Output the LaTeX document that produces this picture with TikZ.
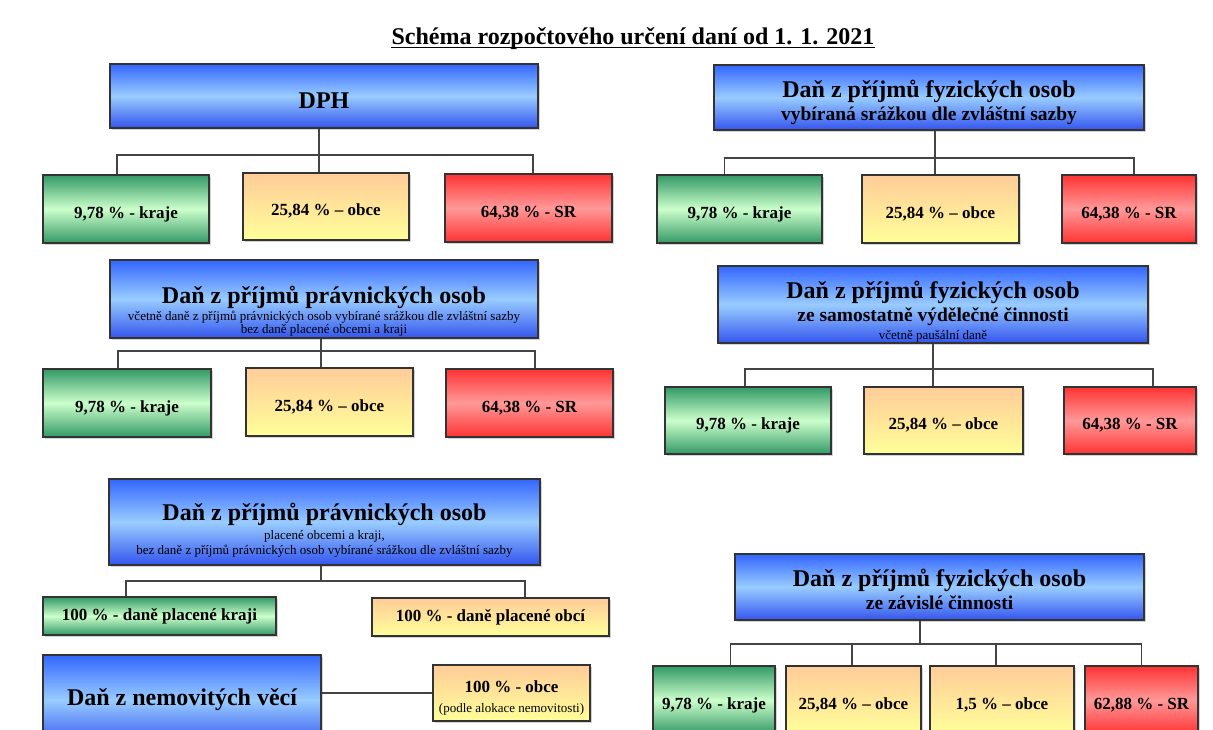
\documentclass[tikz,border=0pt]{standalone}
\usepackage{fontspec}
\setmainfont{Liberation Serif}
\usepackage{tikz}
\usetikzlibrary{positioning,shadows}

\definecolor{rbBlueTop}{HTML}{3366FF}
\definecolor{rbBlueMid}{HTML}{99CCFF}
\definecolor{rbBlueBot}{HTML}{3355EE}
\definecolor{rbGreenTop}{HTML}{339966}
\definecolor{rbGreenMid}{HTML}{CCFFCC}
\definecolor{rbPeach}{HTML}{FFCC99}
\definecolor{rbPaleYellow}{HTML}{FFFF99}
\definecolor{rbRedTop}{HTML}{FF3333}
\definecolor{rbRedMid}{HTML}{FF9999}
\definecolor{rbEdge}{HTML}{333333}
\definecolor{rbLine}{HTML}{444444}

\newcommand{\hdfont}{\fontsize{24}{26}\selectfont\bfseries}
\newcommand{\subhdfont}{\fontsize{19.5}{22}\selectfont\bfseries}
\newcommand{\notefont}{\fontsize{13}{14}\selectfont}
\newcommand{\sharefont}{\fontsize{17}{19}\selectfont\bfseries}

\tikzset{
    % blue header boxes
    taxbox/.style={rectangle,draw=rbEdge,line width=1.3pt,top color=rbBlueTop,bottom color=rbBlueBot,middle color=rbBlueMid,inner sep=0pt,drop shadow={shadow xshift=1.5pt,shadow yshift=-1.5pt,opacity=0.35}},
    % share boxes (text sits a little low)
    sharebox/.style={rectangle,draw=rbEdge,line width=1.3pt,inner sep=0pt,font=\sharefont,align=center,text height=22pt,text depth=4pt,drop shadow={shadow xshift=1.5pt,shadow yshift=-1.5pt,opacity=0.35}},
    plaintext/.style={text height=,text depth=},
    krajbox/.style={sharebox,top color=rbGreenTop,bottom color=rbGreenTop,middle color=rbGreenMid},
    obecbox/.style={sharebox,top color=rbPeach,bottom color=rbPaleYellow},
    srbox/.style={sharebox,top color=rbRedTop,bottom color=rbRedTop,middle color=rbRedMid},
    % text lines inside header boxes
    hdline/.style={anchor=base,inner sep=0pt,font=\hdfont},
    subline/.style={anchor=base,inner sep=0pt,font=\subhdfont},
    noteline/.style={anchor=base,inner sep=0pt,font=\notefont},
    bus/.style={draw=rbLine,line width=1.3pt}
}

\begin{document}
\begin{tikzpicture}[x=1pt,y=-1pt]
    \useasboundingbox (0,0) rectangle (1213,729);
    \clip (0,0) rectangle (1213,729);

    % Title
    \node[anchor=base,font=\hdfont,inner sep=0pt,text depth=0pt] (title) at (633,44) {Schéma rozpočtového určení daní od 1. 1. 2021};
    \draw[line width=1.5pt] ([yshift=-3.5pt]title.south west) -- ([yshift=-3.5pt]title.south east);

    % DPH
    \node[taxbox,font=\hdfont,text height=24pt,text depth=0pt,minimum width=428,minimum height=64] (dph) at (324,96) {DPH};
    \node[krajbox,minimum width=166,minimum height=68] (dphK) at (126,209) {9,78 \% - kraje};
    \node[obecbox,minimum width=166,minimum height=67] (dphO) at (326,206.5) {25,84 \% – obce};
    \node[srbox,minimum width=167,minimum height=68] (dphS) at (528.5,208) {64,38 \% - SR};
    \coordinate (dphBus) at (319,155);
    \draw[bus] ([xshift=-5]dph.south) -- ([xshift=-5]dph.south |- dphO.north);
    \draw[bus] ([xshift=-9]dphK.north) |- ([xshift=4.5]dphS.north |- dphBus) -- ([xshift=4.5]dphS.north);

    % DPFO vybirana srazkou
    \node[taxbox,minimum width=430,minimum height=65] (fosA) at (929,97.5) {};
    \node[hdline] (fosA-l1) at (929,97) {Daň z příjmů fyzických osob};
    \node[subline] (fosA-l2) at (929,120) {vybíraná srážkou dle zvláštní sazby};
    \node[krajbox,minimum width=165,minimum height=68] (fosAK) at (739.5,209) {9,78 \% - kraje};
    \node[obecbox,minimum width=157,minimum height=68] (fosAO) at (940.5,209) {25,84 \% – obce};
    \node[srbox,minimum width=134,minimum height=68] (fosAS) at (1129,209) {64,38 \% - SR};
    \coordinate (fosABus) at (935,158);
    \draw[bus] ([xshift=6]fosA.south) -- ([xshift=6]fosA.south |- fosAO.north);
    \draw[bus] ([xshift=-15]fosAK.north) |- ([xshift=5]fosAS.north |- fosABus) -- ([xshift=5]fosAS.north);

    % DPPO
    \node[taxbox,minimum width=428,minimum height=78] (pravA) at (324,299) {};
    \node[hdline] (pravA-l1) at (324,303) {Daň z příjmů právnických osob};
    \node[noteline] (pravA-l2) at (324,320) {včetně daně z příjmů právnických osob vybírané srážkou dle zvláštní sazby};
    \node[noteline] (pravA-l3) at (324,333) {bez daně placené obcemi a kraji};
    \node[krajbox,minimum width=168,minimum height=68] (pravAK) at (127,403) {9,78 \% - kraje};
    \node[obecbox,minimum width=167,minimum height=68] (pravAO) at (329.5,402) {25,84 \% – obce};
    \node[srbox,minimum width=167,minimum height=68] (pravAS) at (529.5,403) {64,38 \% - SR};
    \coordinate (pravABus) at (321,351);
    \draw[bus] ([xshift=-3]pravA.south) -- ([xshift=-3]pravA.south |- pravAO.north);
    \draw[bus] ([xshift=-9]pravAK.north) |- ([xshift=5.5]pravAS.north |- pravABus) -- ([xshift=5.5]pravAS.north);

    % DPFO ze samostatne vydelecne cinnosti
    \node[taxbox,minimum width=430,minimum height=77] (fosB) at (933,304.5) {};
    \node[hdline] (fosB-l1) at (933,298) {Daň z příjmů fyzických osob};
    \node[subline] (fosB-l2) at (933,321) {ze samostatně výdělečné činnosti};
    \node[noteline] (fosB-l3) at (933,339) {včetně paušální daně};
    \node[krajbox,minimum width=166,minimum height=67] (fosBK) at (748,420.5) {9,78 \% - kraje};
    \node[obecbox,minimum width=159,minimum height=67] (fosBO) at (943.5,420.5) {25,84 \% – obce};
    \node[srbox,minimum width=132,minimum height=67] (fosBS) at (1130,420.5) {64,38 \% - SR};
    \coordinate (fosBBus) at (933,369);
    \draw[bus] (fosB.south) -- (fosB.south |- fosBO.north);
    \draw[bus] ([xshift=-3]fosBK.north) |- ([xshift=23]fosBS.north |- fosBBus) -- ([xshift=23]fosBS.north);

    % DPPO placene obcemi a kraji
    \node[taxbox,minimum width=431,minimum height=86] (pravB) at (324.5,522) {};
    \node[hdline] (pravB-l1) at (324.5,520) {Daň z příjmů právnických osob};
    \node[noteline] (pravB-l2) at (324.5,539) {placené obcemi a kraji,};
    \node[noteline] (pravB-l3) at (324.5,554) {bez daně z příjmů právnických osob vybírané srážkou dle zvláštní sazby};
    \node[krajbox,plaintext,minimum width=233,minimum height=38] (pravBK) at (159.5,616) {100 \% - daně placené kraji};
    \node[obecbox,plaintext,minimum width=237,minimum height=38] (pravBO) at (490.5,617) {100 \% - daně placené obcí};
    \coordinate (pravBBus) at (321,581);
    \draw[bus] ([xshift=-3.5]pravB.south) -- (pravBBus);
    \draw[bus] ([xshift=-33.5]pravBK.north) |- ([xshift=34.5]pravBO.north |- pravBBus) -- ([xshift=34.5]pravBO.north);

    % Dan z nemovitych veci
    \node[taxbox,font=\hdfont,minimum width=278,minimum height=90] (nem) at (182,700) {Daň z nemovitých věcí};
    \node[obecbox,plaintext,minimum width=157,minimum height=56] (nemO) at (511.5,693) {\rule{0pt}{22pt}100 \% - obce\\[1pt]{\notefont\mdseries (podle alokace nemovitosti)}};
    \draw[bus] (nem.east |- nemO.west) -- (nemO.west);

    % DPFO ze zavisle cinnosti
    \node[taxbox,minimum width=409,minimum height=66] (fosC) at (939.5,587) {};
    \node[hdline] (fosC-l1) at (939.5,586) {Daň z příjmů fyzických osob};
    \node[subline] (fosC-l2) at (939.5,609) {ze závislé činnosti};
    \node[krajbox,minimum width=122,minimum height=68] (fosCK) at (714,700) {9,78 \% - kraje};
    \node[obecbox,minimum width=135,minimum height=68] (fosCO1) at (853.5,700) {25,84 \% – obce};
    \node[obecbox,minimum width=144,minimum height=68] (fosCO2) at (1002,700) {1,5 \% – obce};
    \node[srbox,minimum width=113,minimum height=68] (fosCS) at (1141.5,700) {62,88 \% - SR};
    \coordinate (fosCBus) at (920,644);
    \draw[bus] ([xshift=-19.5]fosC.south) -- (fosCBus);
    \draw[bus] ([xshift=16.5]fosCK.north) |- (fosCS.north |- fosCBus) -- (fosCS.north);
    \draw[bus] ([xshift=-1.5]fosCO1.north) -- ([xshift=-1.5]fosCO1.north |- fosCBus);
    \draw[bus] ([xshift=-6]fosCO2.north) -- ([xshift=-6]fosCO2.north |- fosCBus);
\end{tikzpicture}
\end{document}
